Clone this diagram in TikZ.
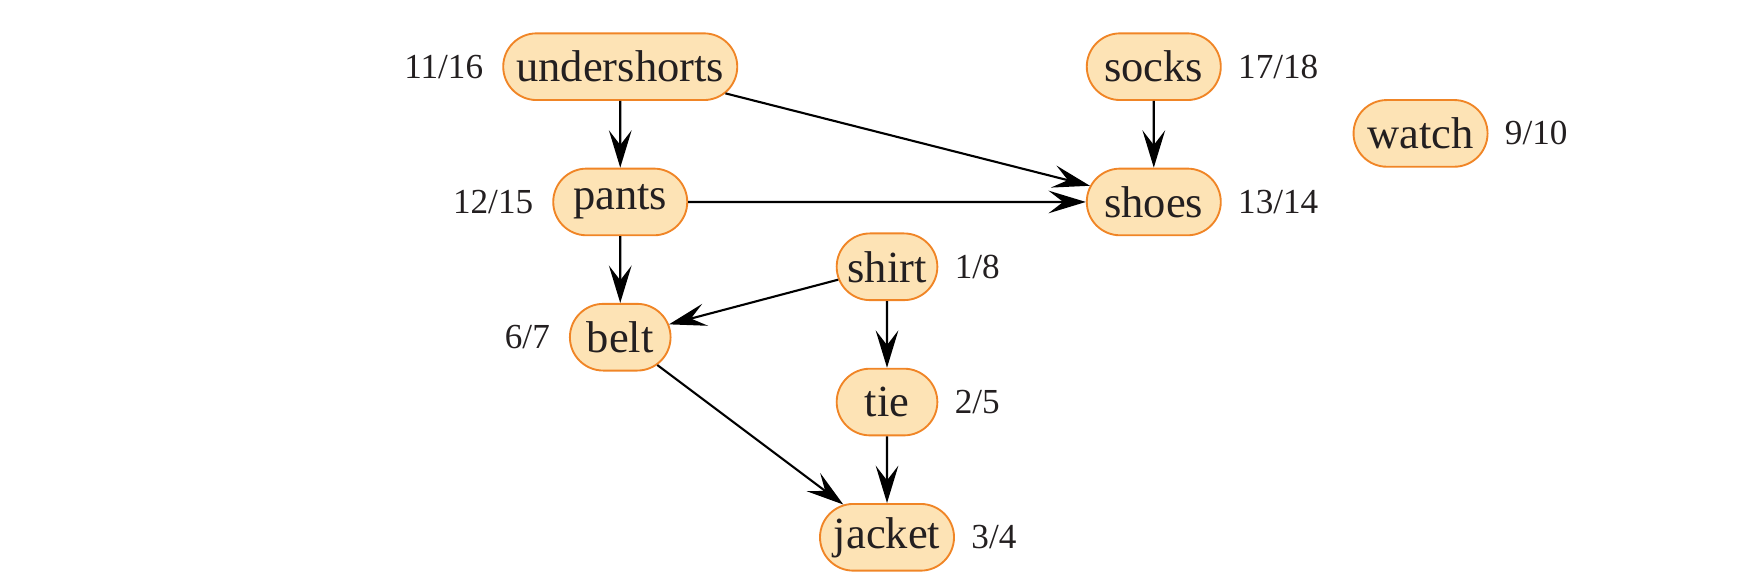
\documentclass[tikz,border=0pt]{standalone}
\usepackage{fontspec}
\setmainfont{Liberation Serif}
\usetikzlibrary{positioning, arrows.meta, shapes.misc}
\definecolor{garment}{HTML}{FDE3B5}
\definecolor{garmentedge}{HTML}{F08526}
\definecolor{textmain}{HTML}{231F20}

\begin{document}
\begin{tikzpicture}[
    node distance=1cm,
    g/.style={rounded rectangle, draw=garmentedge, fill=garment, text=textmain,
              line width=0.8pt, minimum height=1cm, minimum width=2.15cm, inner sep=2pt,
              font=\fontsize{19}{22}\selectfont},
    gs/.style={g, minimum width=1.65cm},
    t/.style={text=textmain, inner sep=0pt, font=\fontsize{15}{18}\selectfont},
    e/.style={-{Stealth[length=5.6mm, width=3.4mm, inset=2.2mm]}, line width=0.9pt}
  ]
  \useasboundingbox (0,0) rectangle (26.42,-8.77);
  \node[g, minimum width=3.65cm] (undershorts) at (9.3,-1) {undershorts};
  \node[g, below=of undershorts] (pants) {pants};
  \node[gs, below=of pants] (belt) {belt};
  \node[g] (socks) at (17.3,-1) {socks};
  \node[g, below=of socks] (shoes) {shoes};
  \node[g] (watch) at (21.3,-2) {watch};
  \node[gs] (shirt) at (13.3,-4) {shirt};
  \node[gs, below=of shirt] (tie) {tie};
  \node[g, below=of tie] (jacket) {jacket};
  % discovery/finish times
  \node[t, left=0.28cm of undershorts] (t-undershorts) {11/16};
  \node[t, left=0.28cm of pants] (t-pants) {12/15};
  \node[t, left=0.28cm of belt] (t-belt) {6/7};
  \node[t, right=0.24cm of socks] (t-socks) {17/18};
  \node[t, right=0.24cm of shoes] (t-shoes) {13/14};
  \node[t, right=0.24cm of watch] (t-watch) {9/10};
  \node[t, right=0.24cm of shirt] (t-shirt) {1/8};
  \node[t, right=0.24cm of tie] (t-tie) {2/5};
  \node[t, right=0.24cm of jacket] (t-jacket) {3/4};
  \draw[e] (undershorts) -- (pants);
  \draw[e] (undershorts) -- (shoes);
  \draw[e] (pants) -- (shoes);
  \draw[e] (pants) -- (belt);
  \draw[e] (socks) -- (shoes);
  \draw[e] (shirt) -- (belt);
  \draw[e] (shirt) -- (tie);
  \draw[e] (belt) -- (jacket);
  \draw[e] (tie) -- (jacket);
\end{tikzpicture}
\end{document}
